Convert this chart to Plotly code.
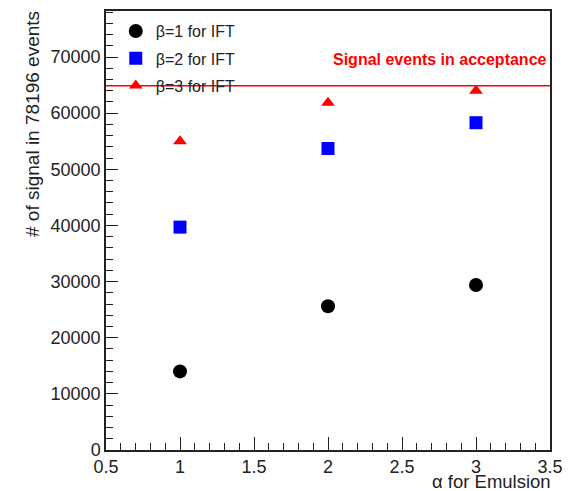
import plotly.graph_objects as go

alpha = [1, 2, 3]
beta1 = [14000, 25600, 29400]
beta2 = [39700, 53700, 58300]
beta3 = [55000, 61850, 64000]
series_names = ["β=1 for IFT", "β=2 for IFT", "β=3 for IFT"]
acceptance = 64900
x_range = [0.5, 3.5]
y_range = [0, 78196]

FONT = "Liberation Sans, Arial, Helvetica, sans-serif"

fig = go.Figure()
styles = [
    dict(symbol="circle", color="black", size=14),
    dict(symbol="square", color="#0000ff", size=13),
    dict(symbol="triangle-up", color="#ff0000", size=12),
]
for i, (vals, name, st) in enumerate(zip([beta1, beta2, beta3], series_names, styles)):
    fig.add_trace(go.Scatter(
        x=alpha, y=vals, mode="markers", name=name,
        legendgroup=f"g{i}",
        marker=dict(symbol=st["symbol"], color=st["color"], size=st["size"], line=dict(width=0)),
    ))

fig.add_trace(go.Scatter(
    x=x_range, y=[acceptance, acceptance], mode="lines",
    line=dict(color="#ff0000", width=1.5), showlegend=False, hoverinfo="skip",
))

fig.update_layout(
    width=572, height=491,
    margin=dict(l=106, r=16, t=9, b=41),
    paper_bgcolor="white", plot_bgcolor="white",
    font=dict(family=FONT, size=16, color="black"),
    showlegend=True,
    legend=dict(x=0.022, y=0.993, xanchor="left", yanchor="top",
                bgcolor="rgba(0,0,0,0)", font=dict(size=16, family=FONT, color="#222"),
                tracegroupgap=3.5, itemsizing="trace"),
    xaxis=dict(range=x_range, showline=True, linecolor="#222", linewidth=1.5, mirror=True,
               ticks="inside", ticklen=13, tickwidth=1.2, tickcolor="#222",
               tick0=0.5, dtick=0.5, showgrid=False, zeroline=False,
               tickfont=dict(size=18, color="#222"),
               minor=dict(ticks="inside", ticklen=7, dtick=0.1, tickcolor="#222", tickwidth=1.2, showgrid=False)),
    yaxis=dict(range=y_range, showline=True, linecolor="#222", linewidth=1.5, mirror=True,
               ticks="inside", ticklen=12, tickwidth=1.2, tickcolor="#222",
               tick0=0, dtick=10000, tickformat="d", showgrid=False, zeroline=False,
               tickfont=dict(size=18, color="#222"),
               minor=dict(ticks="inside", ticklen=7, dtick=2000, tickcolor="#222", tickwidth=1.2, showgrid=False)),
    annotations=[
        dict(text="Signal events in acceptance", xref="paper", yref="paper",
             x=(555 - 106) / 450, y=(450 - 58) / 441, xanchor="right", yanchor="middle", showarrow=False,
             font=dict(color="#ff0000", size=16, family=FONT, weight="bold")),
        dict(text="# of signal in 78196 events", xref="paper", yref="paper",
             x=(31 - 106) / 450, y=(450 - 7) / 441, xanchor="center", yanchor="top", textangle=-90,
             showarrow=False, font=dict(size=19, family=FONT, color="#222")),
        dict(text="α for Emulsion", xref="paper", yref="paper",
             x=(559 - 106) / 450, y=(450 - 482) / 441, xanchor="right", yanchor="middle",
             showarrow=False, font=dict(size=18.5, family=FONT, color="#222")),
    ],
)

fig.write_html("out.html")
